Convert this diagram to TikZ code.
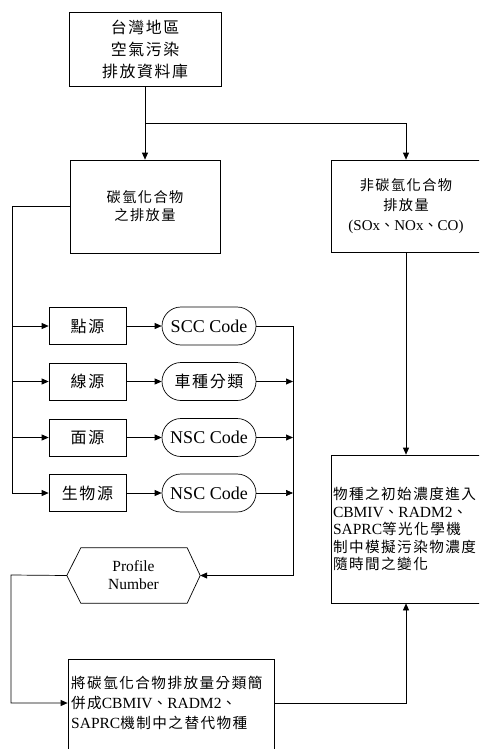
\documentclass[tikz,border=0pt]{standalone}
\usepackage{fontspec}
\setmainfont{Liberation Serif}
\newfontfamily\cjk[LetterSpace=10]{Noto Sans CJK TC}
\newcommand\ck[1]{{\cjk\fontsize{14.6}{17.5}\selectfont #1}}
\newcommand\cks[1]{{\cjk\fontsize{14.2}{18}\selectfont #1}}
\usetikzlibrary{arrows.meta,shapes.misc}
\begin{document}
\begin{tikzpicture}[x=1pt,y=-1pt,
  ln/.style={line width=0.7pt, draw=black},
  box/.style={ln, rectangle, inner sep=0pt, align=center},
  rowbox/.style={box, minimum width=77pt, minimum height=37pt, font=\cjk\fontsize{16}{18}\selectfont},
  stad/.style={ln, rounded rectangle, inner sep=0pt, minimum width=94pt, minimum height=38pt, font=\fontsize{18}{20}\selectfont},
  arr/.style={ln, -{Triangle[length=7pt,width=6pt]}}]
\useasboundingbox (0,0) rectangle (479,749);
\clip (0,0) rectangle (479,749);

% top box
\node[box, minimum width=152pt, minimum height=74pt, font=\cjk\fontsize{15.9}{22}\selectfont] (top) at (145,49) {台灣地區\\空氣污染\\排放資料庫};

% second level boxes
\node[box, minimum width=150pt, minimum height=93pt, font=\cjk\fontsize{14.2}{18}\selectfont] (lb) at (145,206.5) {碳氫化合物\\之排放量};
\node[box, minimum width=150pt, minimum height=92pt, font=\fontsize{15}{20}\selectfont] (rb) at (406,206) {\cks{非碳氫化合物}\\\cks{排放量}\\(SOx\cks{、}NOx\cks{、}CO)};

% rows
\node[rowbox] (r1) at (87.5,326) {點源};
\node[rowbox] (r2) at (87.5,381.5) {線源};
\node[rowbox] (r3) at (87.5,437.5) {面源};
\node[rowbox] (r4) at (87.5,493) {生物源};
\node[stad] (s1) at (209,326) {SCC Code};
\node[stad, font=\cjk\fontsize{16}{18}\selectfont] (s2) at (209,381.5) {車種分類};
\node[stad] (s3) at (209,437.5) {NSC Code};
\node[stad] (s4) at (209,493) {NSC Code};

% hexagon
\node[inner sep=0pt, minimum width=133pt, minimum height=55pt, align=center, font=\fontsize{15.5}{18}\selectfont] (hex) at (133.5,575.5) {Profile\\Number};
\draw[ln] (hex.west) -- ([xshift=14pt]hex.north west) -- ([xshift=-13pt]hex.north east) -- (hex.east) -- ([xshift=-13pt]hex.south east) -- ([xshift=14pt]hex.south west) -- cycle;

% right big box
\node[box, inner xsep=2pt, text width=146pt, minimum height=148pt, align=left, font=\fontsize{15.5}{17.5}\selectfont] (pb) at (406,529)
  {\ck{物種之初始濃度進入}\\CBMIV\ck{、}RADM2\ck{、}\\SAPRC\ck{等光化學機}\\\ck{制中模擬污染物濃度}\\\ck{隨時間之變化}};

% bottom box
\node[box, minimum width=206pt, minimum height=101pt] (bb) at (171,709.5) {};
\node[anchor=west, inner sep=0pt, align=left, font=\fontsize{15.5}{20}\selectfont] (bt) at (71,703)
  {\ck{將碳氫化合物排放量分類簡}\\\ck{併成}CBMIV\ck{、}RADM2\ck{、}\\SAPRC\ck{機制中之替代物種}};

% connectors
\coordinate (tj) at (145,123);
\coordinate (L) at (12,206);
\coordinate (R) at (293,326);
\coordinate (L2) at (11,575);
\draw[ln] (top.south) -- (tj);
\draw[arr] (tj) -- (lb.north);
\draw[arr] (tj) -| (rb.north);
\draw[arr] (rb.south) -- (pb.north);
\draw[ln] (lb.west) -| (L |- r4.west);
\foreach \i in {1,2,3,4} {
  \draw[arr] (L |- r\i.west) -- (r\i.west);
  \draw[arr] (r\i.east) -- (s\i.west);
}
\draw[arr] (s1.east) -- (R) -- (R |- hex.east) -- (hex.east);
\foreach \i in {2,3,4} {
  \draw[arr] (s\i.east) -- (R |- s\i.east);
}
\draw[arr] (hex.west) -- (L2) -- (L2 |- bt.west) -- (bb.west |- bt.west);
\draw[arr] (bb.east |- bt.west) -| (pb.south);
\end{tikzpicture}
\end{document}
